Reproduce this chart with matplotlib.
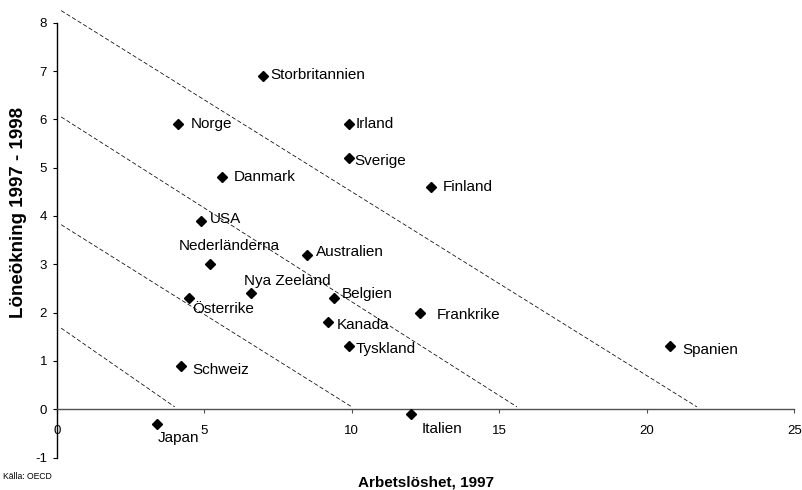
import matplotlib
matplotlib.use("Agg")
import matplotlib.pyplot as plt

plt.rcParams['font.family'] = ['Liberation Sans', 'DejaVu Sans']

# ---- data ----
countries = ["Storbritannien", "Norge", "Irland", "Sverige", "Danmark", "Finland",
             "USA", "Nederländerna", "Australien", "Nya Zeeland", "Österrike",
             "Belgien", "Kanada", "Tyskland", "Frankrike", "Schweiz", "Spanien",
             "Japan", "Italien"]
unemployment = [7.0, 4.1, 9.9, 9.9, 5.6, 12.7, 4.9, 5.2, 8.5, 6.6, 4.5,
                9.4, 9.2, 9.9, 12.3, 4.2, 20.8, 3.4, 12.0]
wage_growth = [6.9, 5.9, 5.9, 5.2, 4.8, 4.6, 3.9, 3.0, 3.2, 2.4, 2.3,
               2.3, 1.8, 1.3, 2.0, 0.9, 1.3, -0.3, -0.1]

# reference (dashed) lines: start and end points
line_x0 = [0.15, 0.15, 0.15, 0.15]
line_y0 = [8.25, 6.05, 3.82, 1.68]
line_x1 = [21.7, 15.6, 10.0, 4.0]
line_y1 = [0.05, 0.05, 0.05, 0.05]

x_ticks = [0, 5, 10, 15, 20, 25]
y_ticks = [-1, 0, 1, 2, 3, 4, 5, 6, 7, 8]

# label offsets in pixels (layout only)
label_offsets = {
    "Storbritannien": (7, 1), "Norge": (13, 0), "Irland": (7, 0),
    "Sverige": (6, -3), "Danmark": (12, 0), "Finland": (11, 0),
    "USA": (9, 2), "Nederländerna": (-31, 18), "Australien": (8, 3),
    "Nya Zeeland": (-7, 12), "Österrike": (3, -11), "Belgien": (8, 4),
    "Kanada": (9, -3), "Tyskland": (7, -3), "Frankrike": (17, -2),
    "Schweiz": (12, -4), "Spanien": (12, -4), "Japan": (1, -14),
    "Italien": (11, -15),
}

fig = plt.figure(figsize=(8.02, 4.90), dpi=100)
ax = fig.add_axes([0.0707, 0.0661, 0.9197, 0.8876])

for x0, y0, x1, y1 in zip(line_x0, line_y0, line_x1, line_y1):
    ax.plot([x0, x1], [y0, y1], color='black', lw=0.55,
            linestyle=(0, (5.5, 3)), clip_on=False, zorder=2)

ax.plot(unemployment, wage_growth, linestyle='none', marker='D',
        markersize=5.2, color='black', zorder=3, clip_on=False)

for name, xv, yv in zip(countries, unemployment, wage_growth):
    dx, dy = label_offsets[name]
    ax.annotate(name, (xv, yv), xytext=(dx, dy), textcoords='offset pixels',
                ha='left', va='center', fontsize=11, color='black', zorder=4)

ax.set_xlim(0, 25)
ax.set_ylim(-1, 8)
ax.set_xticks(x_ticks)
ax.set_yticks(y_ticks)
ax.set_xticklabels([str(t) for t in x_ticks])
ax.set_yticklabels([str(t) for t in y_ticks])

ax.spines['top'].set_visible(False)
ax.spines['right'].set_visible(False)
ax.spines['bottom'].set_position(('data', 0))
ax.spines['bottom'].set_color('#505050')
ax.spines['left'].set_color('black')
ax.spines['bottom'].set_linewidth(1.0)
ax.spines['left'].set_linewidth(1.0)

ax.tick_params(axis='x', direction='out', length=3, width=0.8, pad=8.5,
               labelsize=9.5, color='#505050')
ax.tick_params(axis='y', direction='out', length=3, width=0.8, pad=4,
               labelsize=9.5)

fig.text(425.5 / 802, 1 - 482 / 490, "Arbetslöshet, 1997", ha='center',
         va='center', fontsize=11, fontweight='bold')
fig.text(19 / 802, 1 - 212 / 490, "Löneökning 1997 - 1998", ha='center',
         va='center', rotation=90, fontsize=13.5, fontweight='bold')
fig.text(3 / 802, 1 - 476 / 490, "Källa: OECD", ha='left', va='center',
         fontsize=6.2)

fig.savefig("out.png", dpi=100)
